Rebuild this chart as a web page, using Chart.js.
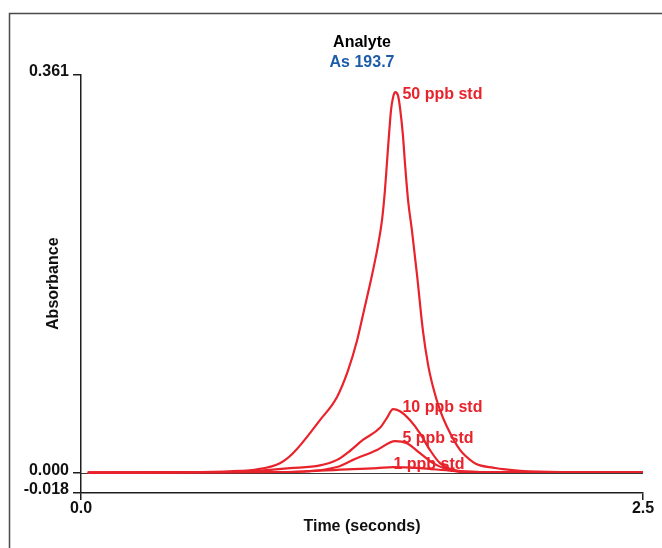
<!DOCTYPE html>
<html>
<head>
<meta charset="utf-8">
<script src="https://cdn.jsdelivr.net/npm/chart.js@4.4.1/dist/chart.umd.min.js"></script>
<style>
    html, body { margin: 0; padding: 0; background: #fff; }
    #wrap { width: 662px; height: 548px; position: relative; }
</style>
</head>
<body>
<div id="wrap"><canvas id="chart" width="662" height="548"></canvas></div>
<script>
// data (time in s, absorbance)
const seriesNames = ['50 ppb std', '10 ppb std', '5 ppb std', '1 ppb std'];

const time50 = [0.03, 0.53, 0.71, 0.77, 0.885, 0.943, 1.063, 1.139, 1.188, 1.228, 1.259, 1.29, 1.321, 1.339, 1.352, 1.361, 1.37, 1.379, 1.388, 1.397, 1.41, 1.419, 1.432, 1.441, 1.455, 1.472, 1.495, 1.521, 1.544, 1.566, 1.597, 1.628, 1.686, 1.744, 1.775, 1.833, 1.877, 1.953, 2.13, 2.5];
const abs50 = [0.0005, 0.001, 0.002, 0.003, 0.009, 0.018, 0.048, 0.069, 0.093, 0.12, 0.1475, 0.175, 0.206, 0.229, 0.256, 0.281, 0.306, 0.3285, 0.34, 0.345, 0.342, 0.331, 0.306, 0.281, 0.247, 0.22, 0.179, 0.129, 0.098, 0.078, 0.057, 0.042, 0.021, 0.010, 0.007, 0.005, 0.0036, 0.002, 0.001, 0.001];

const time10 = [0.03, 0.707, 0.841, 0.93, 1.063, 1.139, 1.183, 1.254, 1.33, 1.361, 1.388, 1.419, 1.463, 1.508, 1.552, 1.597, 1.655, 1.775, 2.5];
const abs10 = [0.0005, 0.001, 0.003, 0.0045, 0.007, 0.012, 0.018, 0.030, 0.041, 0.050, 0.058, 0.056, 0.048, 0.036, 0.021, 0.009, 0.003, 0.001, 0.001];

const time5 = [0.03, 0.916, 1.139, 1.21, 1.317, 1.397, 1.45, 1.508, 1.566, 1.628, 1.699, 2.5];
const abs5 = [0.0005, 0.001, 0.0055, 0.012, 0.021, 0.029, 0.027, 0.018, 0.009, 0.0035, 0.001, 0.001];

const time1 = [0.03, 0.93, 1.139, 1.317, 1.388, 1.508, 1.655, 1.775, 2.5];
const abs1 = [0.0005, 0.001, 0.003, 0.0045, 0.0055, 0.0045, 0.002, 0.001, 0.001];

// where each trace name sits (time, absorbance)
const labelTimes = [1.43, 1.43, 1.43, 1.39];
const labelValues = [0.343, 0.059, 0.0315, 0.008];

const xTicks = [0, 2.5];
const yTicks = [-0.018, 0, 0.361];

const RED = '#e8232b';
const AXIS = '#1e1e1e';
const FONT = "'Liberation Sans', Arial, sans-serif";

function pairs(xs, ys) {
    return xs.map((x, i) => ({ x: x, y: ys[i] }));
}

const allTimes = [time50, time10, time5, time1];
const allAbs = [abs50, abs10, abs5, abs1];

const datasets = seriesNames.map((name, i) => ({
    label: name,
    data: pairs(allTimes[i], allAbs[i]),
    borderColor: RED,
    borderWidth: 2.2,
    pointRadius: 0,
    cubicInterpolationMode: 'monotone',
    fill: false
}));

const decorations = {
    id: 'decorations',
    beforeDraw(chart) {
        const c = chart.ctx;
        c.save();
        c.strokeStyle = '#4a4a4a';
        c.lineWidth = 1.5;
        c.beginPath();
        c.moveTo(9.5, 560);
        c.lineTo(9.5, 13.5);
        c.lineTo(670, 13.5);
        c.stroke();
        c.restore();
    },
    beforeDatasetsDraw(chart) {
        const c = chart.ctx;
        const xs = chart.scales.x, ys = chart.scales.y;
        const y0 = Math.round(ys.getPixelForValue(0)) + 0.5;
        c.save();
        c.strokeStyle = '#3a3a3a';
        c.lineWidth = 1;
        c.beginPath();
        c.moveTo(xs.left, y0);
        c.lineTo(xs.right, y0);
        c.stroke();
        c.restore();
    },
    afterDatasetsDraw(chart) {
        const c = chart.ctx;
        const xs = chart.scales.x, ys = chart.scales.y;
        c.save();
        c.fillStyle = RED;
        c.font = 'bold 16px ' + FONT;
        c.textBaseline = 'middle';
        c.textAlign = 'left';
        seriesNames.forEach((name, i) => {
            c.fillText(name, xs.getPixelForValue(labelTimes[i]), ys.getPixelForValue(labelValues[i]));
        });
        c.restore();
    }
};

new Chart(document.getElementById('chart').getContext('2d'), {
    type: 'line',
    data: { datasets: datasets },
    options: {
        responsive: false,
        animation: false,
        layout: { padding: { left: 0, right: 19, top: 0, bottom: 0 } },
        plugins: {
            legend: { display: false },
            tooltip: { enabled: false },
            title: {
                display: true,
                text: 'Analyte',
                color: '#000',
                fullSize: false,
                font: { family: FONT, size: 16, weight: 'bold' },
                padding: { top: 33, bottom: 1 }
            },
            subtitle: {
                display: true,
                text: 'As 193.7',
                color: '#1d5ca8',
                fullSize: false,
                font: { family: FONT, size: 16, weight: 'bold' },
                padding: { top: 0, bottom: 2 }
            }
        },
        scales: {
            x: {
                type: 'linear',
                min: 0,
                max: 2.5,
                afterBuildTicks: s => { s.ticks = xTicks.map(v => ({ value: v })); },
                afterFit: s => { s.height = 55; },
                ticks: {
                    autoSkip: false,
                    maxRotation: 0,
                    padding: -1,
                    color: '#111',
                    font: { family: FONT, size: 16, weight: 'bold' },
                    callback: v => Number(v).toFixed(1)
                },
                grid: { drawOnChartArea: false, drawTicks: true, tickLength: 7, color: AXIS, lineWidth: 1.5 },
                border: { display: true, color: AXIS, width: 1.5 },
                title: {
                    display: true,
                    text: 'Time (seconds)',
                    color: '#111',
                    font: { family: FONT, size: 16, weight: 'bold' },
                    padding: { top: 0, bottom: 12 }
                }
            },
            y: {
                type: 'linear',
                min: -0.018,
                max: 0.361,
                afterBuildTicks: s => { s.ticks = yTicks.map(v => ({ value: v })); },
                afterFit: s => { s.width = 81; },
                ticks: {
                    autoSkip: false,
                    padding: 4,
                    labelOffset: -3,
                    color: '#111',
                    font: { family: FONT, size: 16, weight: 'bold' },
                    callback: v => Number(v).toFixed(3)
                },
                grid: { drawOnChartArea: false, drawTicks: true, tickLength: 8, color: AXIS, lineWidth: 1.5 },
                border: { display: true, color: AXIS, width: 1.5 },
                title: {
                    display: true,
                    text: 'Absorbance',
                    color: '#111',
                    font: { family: FONT, size: 16, weight: 'bold' },
                    padding: { top: 44, bottom: 0 }
                }
            }
        }
    },
    plugins: [decorations]
});
</script>
</body>
</html>
